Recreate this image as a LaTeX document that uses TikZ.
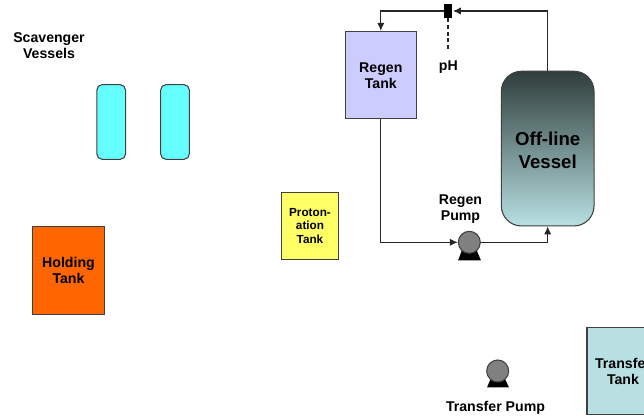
\documentclass[tikz,border=0pt]{standalone}
\usepackage{fontspec}
\setmainfont{Liberation Sans}
\usetikzlibrary{arrows.meta,calc}
\definecolor{scavc}{HTML}{66FFFF}
\definecolor{regenc}{HTML}{CCCCFF}
\definecolor{holdc}{HTML}{FF6600}
\definecolor{protonc}{HTML}{FFFF66}
\definecolor{paleteal}{HTML}{B8E0E2}
\definecolor{darkteal}{HTML}{2F3E3C}
\tikzset{
  tank/.style={draw=black!75,line width=0.8pt,inner sep=0pt,align=center,font=\bfseries\fontsize{10.6}{12}\selectfont},
  label/.style={inner sep=0pt,align=center,font=\bfseries\fontsize{10.6}{12}\selectfont},
  pipe/.style={draw=black!85,line width=0.8pt,-{Latex[length=6pt,width=5.5pt]}},
  pumpbody/.style={circle,draw=black!75,fill=black!50,line width=0.8pt,minimum size=16.5pt,inner sep=0pt},
  pumpbase/.style={fill=black,draw=none},
  scav/.style={draw=black!75,fill=scavc,line width=0.8pt,rounded corners=4pt,minimum width=21.5pt,minimum height=56pt,inner sep=0pt}
}
\begin{document}
\begin{tikzpicture}[x=0.75pt,y=-0.75pt]
\useasboundingbox (0,0) rectangle (644,417);
\clip (0,0) rectangle (644,417);
\fill[white] (0,0) rectangle (644,417);
% tanks
\node[tank,fill=regenc,minimum width=53.5pt,minimum height=65.5pt] (regen) at (380.8,75) {};
\node[label] (regentext) at (380.8,76) {Regen\\Tank};
\node[tank,fill=holdc,minimum width=53.5pt,minimum height=66pt] (holding) at (68.5,270.5) {Holding\\Tank};
\node[tank,fill=protonc,minimum width=43pt,minimum height=50.5pt,font=\bfseries\fontsize{8.8}{10.2}\selectfont] (proton) at (310,226) {Proton-\\ation\\Tank};
\node[tank,fill=paleteal,minimum width=54pt,minimum height=65.5pt] (transfer) at (623,371) {Transfer\\Tank};
\node[scav] (scavA) at (111.2,122) {};
\node[scav] (scavB) at (175,122) {};
\node[draw=black!75,line width=0.8pt,rounded corners=15pt,top color=darkteal,bottom color=paleteal,minimum width=69.5pt,minimum height=116pt,inner sep=0pt] (vessel) at (547.7,148.6) {};
\node[inner sep=0pt,align=center,font=\bfseries\fontsize{14}{17}\selectfont] (vesseltext) at (547.7,150.4) {Off-line\\Vessel};
% sensor
\node[fill=black,draw=none,minimum width=6pt,minimum height=10.5pt,inner sep=0pt] (sensor) at (448,11) {};
\coordinate (sensorend) at (448,50);
% pumps
\path[pumpbase] (458,260.5) -- (462,250) -- (476.5,250) -- (481,260.5) -- cycle;
\node[pumpbody] (rpump) at (469.3,242.3) {};
\path[pumpbase] (487,387.5) -- (491,378) -- (504.5,378) -- (509,387.5) -- cycle;
\node[pumpbody] (tpump) at (497.7,371) {};
% pipes
\draw[pipe] (vessel.north) |- ([xshift=0.5pt]sensor.east);
\draw[pipe] (sensor.west) -| (regen.north);
\draw[pipe] (regen.south) |- (rpump.west);
\draw[pipe] (rpump.east) -| (vessel.south);
\draw[draw=black!85,line width=0.8pt,dash pattern=on 3pt off 2pt] (sensor.south) -- (sensorend);
% labels
\node[label] (ph) at (448.3,67) {pH};
\node[label] (scavl) at (49,46) {Scavenger\\Vessels};
\node[label] (rpl) at (460.5,209) {Regen\\Pump};
\node[label] (tpl) at (495.5,407.5) {Transfer Pump};
\end{tikzpicture}
\end{document}
